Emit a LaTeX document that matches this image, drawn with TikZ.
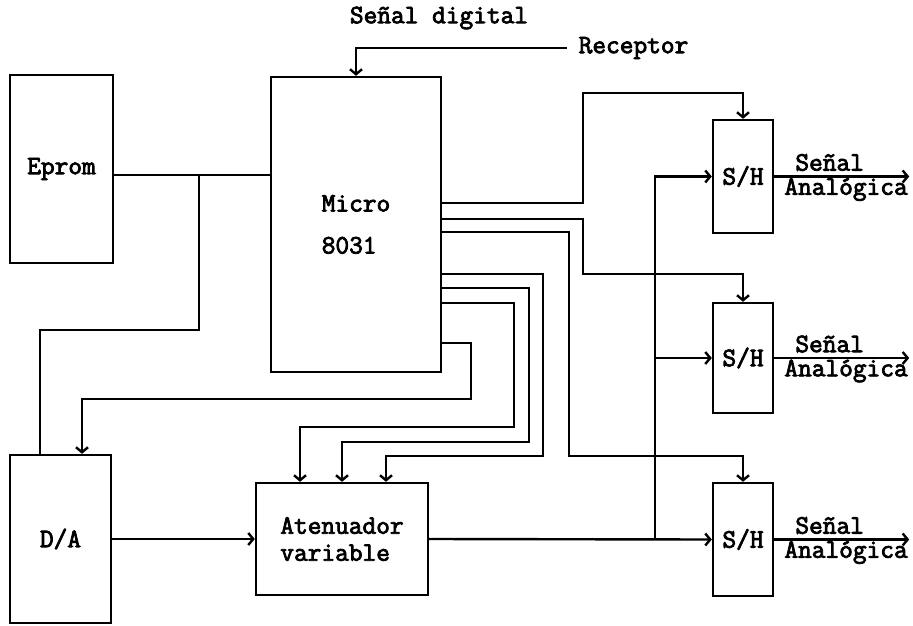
\documentclass[tikz,border=0pt]{standalone}
\usepackage{fontspec}
\newfontfamily\typew{Latin Modern Mono}[FakeBold=3]
\usetikzlibrary{arrows.meta,positioning,calc}
\tikzset{>={Straight Barb[length=2.5pt,width=6pt]},
 every node/.style={font=\typew\fontsize{13.3}{14}\selectfont},
 block/.style={draw,line width=1.2pt,inner sep=0pt,align=center},
 tag/.style={anchor=west,inner sep=0pt}}
\begin{document}
\begin{tikzpicture}[x=0.5pt,y=-0.5pt,line width=1.2pt]
\useasboundingbox (0,0) rectangle (913,625);
% blocks (1px = .5pt)
\node[block,minimum width=51.5pt,minimum height=94pt] (eprom) at (61.5,169) {Eprom};
\node[block,minimum width=85pt,minimum height=147.5pt,align=left,
 font=\typew\fontsize{13.3}{21}\selectfont] (micro) at (356,224.5) {Micro\\8031};
\node[block,minimum width=50.5pt,minimum height=84pt] (da) at (60.5,539) {D/A};
\node[block,minimum width=86pt,minimum height=56pt,align=left,
 font=\typew\fontsize{13.3}{13.5}\selectfont] (aten) at (342,539) {Atenuador\\variable};
\foreach \n/\y/\h in {1/176.5/56.5,2/358/55,3/539.5/56.5}
 \node[block,minimum width=30pt,minimum height=\h pt] (sh\n) at (743,\y) {S/H};
\node (rx) at (633.5,48) {Receptor};
\node (dig) at (439,18) {Señal digital};
% receptor and Eprom bus
\draw[->] ([xshift=-2pt]rx.west) -| (micro.north);
\coordinate (bus) at (199,175);
\draw (eprom.east |- bus) -- (micro.west |- bus);
\draw (bus) |- (40,330) -- (da.north -| 40,0);
\draw[->] (micro.east |- 0,343) -| (471,399) -| (da.north -| 82,0);
% control lines to the attenuator
\foreach \ya/\xa/\yb/\xb in {303/514/427/300,288/529/442/342,274/543/456/386}
 \draw[->] (micro.east |- 0,\ya) -| (\xa,\yb) -| (aten.north -| \xb,0);
% strobes to the S/H
\draw[->] (micro.east |- 0,203) -| (583,93) -| (sh1.north);
\draw[->] (micro.east |- 0,219) -| (583,274) -| (sh2.north);
\draw[->] (micro.east |- 0,232) -| (569,456) -| (sh3.north);
% analog path
\draw[->] (da.east |- aten.west) -- (aten.west);
\draw[->] (aten.east) -- (sh3.west);
\coordinate (tap) at (655,0);
\draw[->] (aten.east -| tap) |- (sh1.west);
\draw[->] (sh2.west -| tap) -- (sh2.west);
\foreach \n in {1,2,3}{
 \draw[->] (sh\n.east) -- ++(135,0) coordinate (out\n);
 \node[tag] at ([xshift=10pt,yshift=7pt]sh\n.east) {Señal};
 \node[tag] at ([xshift=4.5pt,yshift=-6.5pt]sh\n.east) {Analógica};
}
\end{tikzpicture}
\end{document}
